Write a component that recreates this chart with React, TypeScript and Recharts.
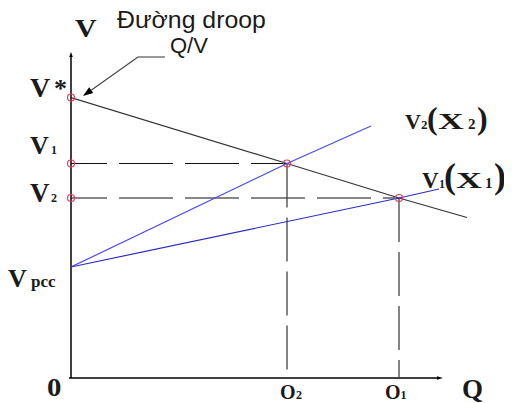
import { ComposedChart, Line, XAxis, YAxis, ReferenceLine, ReferenceDot } from "recharts"

// Q/V plane, units: Q on [0, 100], V on [0, 110]
const droopLine = [
  { q: 0, v: 93.5 },
  { q: 54, v: 71.5 },
  { q: 82, v: 60 },
  { q: 99, v: 53.5 },
]
const lineX2 = [
  { q: 0, v: 37 },
  { q: 54, v: 71.5 },
  { q: 75, v: 84 },
]
const lineX1 = [
  { q: 0, v: 37 },
  { q: 82, v: 60 },
  { q: 92, v: 63 },
]
const operatingPoints = [
  { q: 54, v: 71.5 },
  { q: 82, v: 60 },
]
const vTicks = [93.5, 71.5, 60, 37]
const vTickNames = ["V*", "V1", "V2", "Vpcc"]
const qTicks = [0, 54, 82]
const qTickNames = ["0", "O2", "O1"]
const curveNames = ["V2(X2)", "V1(X1)"]
const droopTitle = ["Đường droop", "Q/V"]
const axisNames = ["V", "Q"]

// geometry of the axes and the callout leader
const vAxisTop = 108.7
const qAxisEnd = 93
const leader = [
  { q: 23.5, v: 107 },
  { q: 16.75, v: 107 },
  { q: 3, v: 94 },
]

const SERIF = "Liberation Serif, Times New Roman, Times, serif"
const SANS = "Liberation Sans, Arial, sans-serif"
const RED = "#e83a5c"

type Piece = { dx: number; size: number; sx?: number; dy?: number }

function Glyphs({
  x,
  y,
  dy,
  parts,
  layout,
  family = SERIF,
  weight = 700,
}: {
  x: number
  y: number
  dy: number
  parts: string[]
  layout: Piece[]
  family?: string
  weight?: number
}) {
  return (
    <g>
      {parts.map((t, i) => {
        const p = layout[i]
        return (
          <text
            key={i}
            x={0}
            y={0}
            transform={`translate(${x + p.dx},${y + dy + (p.dy ?? 0)}) scale(${p.sx ?? 1},1)`}
            fontFamily={family}
            fontWeight={weight}
            fontSize={p.size}
            fill="#1a1a1a"
          >
            {t}
          </text>
        )
      })}
    </g>
  )
}

// letter + subscript split for tick names
const splitName = (s: string) => [s[0], s.slice(1)]

const vTickLayout: { dy: number; pieces: Piece[] }[] = [
  { dy: -1, pieces: [{ dx: -41, size: 28 }, { dx: -17, size: 26 }] },
  { dy: -10, pieces: [{ dx: -41, size: 26 }, { dx: -20, size: 12 }] },
  { dy: 4, pieces: [{ dx: -41, size: 27 }, { dx: -20, size: 12 }] },
  { dy: 20, pieces: [{ dx: -63, size: 26 }, { dx: -40, size: 17 }] },
]

const qTickLayout: { dy: number; pieces: Piece[] }[] = [
  { dy: 18, pieces: [{ dx: -24, size: 25, sx: 1.15 }, { dx: 0, size: 12 }] },
  { dy: 21, pieces: [{ dx: -7, size: 20 }, { dx: 9, size: 12 }] },
  { dy: 21, pieces: [{ dx: -14, size: 20 }, { dx: 1.5, size: 12 }] },
]

const curveLayout: { dy: number; pieces: Piece[] }[] = [
  {
    dy: 3,
    pieces: [
      { dx: 34, size: 22 },
      { dx: 50, size: 13 },
      { dx: 56, size: 32 },
      { dx: 67, size: 23, sx: 1.55 },
      { dx: 97, size: 15 },
      { dx: 106, size: 32 },
    ],
  },
  {
    dy: -1,
    pieces: [
      { dx: -17, size: 23 },
      { dx: 0, size: 12 },
      { dx: 5, size: 36 },
      { dx: 17, size: 24, sx: 1.5 },
      { dx: 46, size: 15 },
      { dx: 55, size: 36 },
    ],
  },
]

const VTick = (props: any) => {
  const { x, y, payload } = props
  const i = vTicks.indexOf(payload.value)
  if (i < 0) return null
  const l = vTickLayout[i]
  return <Glyphs x={x} y={y} dy={l.dy} parts={splitName(vTickNames[i])} layout={l.pieces} />
}

const QTick = (props: any) => {
  const { x, y, payload } = props
  const i = qTicks.indexOf(payload.value)
  if (i < 0) return null
  const l = qTickLayout[i]
  return <Glyphs x={x} y={y} dy={l.dy} parts={splitName(qTickNames[i])} layout={l.pieces} />
}

// line segment that ends in a filled arrowhead
const arrowShape = (len: number, half: number, head: string) => (p: any) => {
  const { x1, y1, x2, y2, stroke, strokeWidth } = p
  const a = Math.atan2(y2 - y1, x2 - x1)
  const bx = x2 - len * Math.cos(a)
  const by = y2 - len * Math.sin(a)
  const nx = -Math.sin(a) * half
  const ny = Math.cos(a) * half
  return (
    <g>
      <line x1={x1} y1={y1} x2={bx} y2={by} stroke={stroke} strokeWidth={strokeWidth} />
      <polygon points={`${x2},${y2} ${bx + nx},${by + ny} ${bx - nx},${by - ny}`} fill={head} />
    </g>
  )
}

export default function App() {
  const curveEnds = [lineX2[lineX2.length - 1], lineX1[lineX1.length - 1]]

  return (
    <div style={{ width: 504, height: 395 }}>
      <ComposedChart width={504} height={395} margin={{ top: 40, right: 41, bottom: 0, left: 8 }}>
        <XAxis
          type="number"
          dataKey="q"
          domain={[0, 100]}
          ticks={qTicks}
          interval={0}
          tick={(p: any) => <QTick {...p} />}
          axisLine={false}
          tickLine={false}
          tickSize={0}
          tickMargin={0}
          height={25}
          allowDataOverflow
        />
        <YAxis
          type="number"
          dataKey="v"
          domain={[0, 110]}
          ticks={vTicks}
          interval={0}
          tick={(p: any) => <VTick {...p} />}
          axisLine={false}
          tickLine={false}
          tickSize={0}
          tickMargin={0}
          width={55}
          allowDataOverflow
        />

        {/* axes */}
        <ReferenceLine
          segment={[{ x: 0, y: 0 }, { x: 0, y: vAxisTop }]}
          stroke="#000"
          strokeWidth={1.5}
          ifOverflow="visible"
          shape={arrowShape(5, 1.8, "#000")}
        />
        <ReferenceLine
          segment={[{ x: -0.5, y: 0 }, { x: qAxisEnd, y: 0 }]}
          stroke="#000"
          strokeWidth={1.5}
          ifOverflow="visible"
          shape={arrowShape(6, 1.8, "#000")}
        />

        {/* dashed projections of the operating points */}
        {operatingPoints.map((p, i) => (
          <ReferenceLine
            key={`h${i}`}
            segment={[{ x: 0, y: p.v }, { x: p.q, y: p.v }]}
            stroke="#111"
            strokeWidth={1.2}
            strokeDasharray="54 12"
            strokeDashoffset={18}
          />
        ))}
        {operatingPoints.map((p, i) => (
          <ReferenceLine
            key={`v${i}`}
            segment={[{ x: p.q, y: p.v }, { x: p.q, y: 0 }]}
            stroke="#444"
            strokeWidth={1.3}
            strokeDasharray="44 10"
          />
        ))}

        <Line data={droopLine} dataKey="v" type="linear" stroke="#333" strokeWidth={1.2} dot={false} isAnimationActive={false} />
        <Line data={lineX2} dataKey="v" type="linear" stroke="#4a4af5" strokeWidth={1.2} dot={false} isAnimationActive={false} />
        <Line data={lineX1} dataKey="v" type="linear" stroke="#2c2cc8" strokeWidth={1.2} dot={false} isAnimationActive={false} />

        {/* callout for the droop line */}
        <ReferenceLine
          segment={[{ x: leader[0].q, y: leader[0].v }, { x: leader[1].q, y: leader[1].v }]}
          stroke="#555"
          strokeWidth={1.2}
          ifOverflow="visible"
        />
        <ReferenceLine
          segment={[{ x: leader[1].q, y: leader[1].v }, { x: leader[2].q, y: leader[2].v }]}
          stroke="#444"
          strokeWidth={1.1}
          ifOverflow="visible"
          shape={arrowShape(10, 3.5, "#000")}
        />

        {/* markers */}
        {vTicks.slice(0, 3).map((v, i) => (
          <ReferenceDot key={`m${i}`} x={0} y={v} r={3.5} fill="none" stroke={RED} strokeWidth={1.2} ifOverflow="visible" />
        ))}
        {operatingPoints.map((p, i) => (
          <ReferenceDot key={`o${i}`} x={p.q} y={p.v} r={3.5} fill="none" stroke={RED} strokeWidth={1.2} />
        ))}

        {/* text */}
        {curveEnds.map((p, i) => (
          <ReferenceDot
            key={`c${i}`}
            x={p.q}
            y={p.v}
            r={0}
            fill="none"
            stroke="none"
            ifOverflow="visible"
            label={(lp: any) => (
              <Glyphs
                x={lp.viewBox.x}
                y={lp.viewBox.y}
                dy={curveLayout[i].dy}
                parts={curveNames[i].split("")}
                layout={curveLayout[i].pieces}
              />
            )}
          />
        ))}
        <ReferenceDot
          x={leader[0].q}
          y={leader[0].v}
          r={0}
          fill="none"
          stroke="none"
          ifOverflow="visible"
          label={(lp: any) => (
            <Glyphs
              x={lp.viewBox.x}
              y={lp.viewBox.y}
              dy={1}
              family={SANS}
              weight={400}
              parts={droopTitle}
              layout={[
                { dx: -48, dy: -30, size: 23, sx: 1.08 },
                { dx: 5, dy: -5, size: 22 },
              ]}
            />
          )}
        />
        <ReferenceDot
          x={0}
          y={vAxisTop}
          r={0}
          fill="none"
          stroke="none"
          ifOverflow="visible"
          label={(lp: any) => (
            <Glyphs x={lp.viewBox.x} y={lp.viewBox.y} dy={-15} parts={[axisNames[0]]} layout={[{ dx: 4, size: 26, sx: 1.15 }]} />
          )}
        />
        <ReferenceDot
          x={qAxisEnd}
          y={0}
          r={0}
          fill="none"
          stroke="none"
          ifOverflow="visible"
          label={(lp: any) => (
            <Glyphs x={lp.viewBox.x} y={lp.viewBox.y} dy={20} parts={[axisNames[1]]} layout={[{ dx: 19, size: 27 }]} />
          )}
        />
      </ComposedChart>
    </div>
  )
}
